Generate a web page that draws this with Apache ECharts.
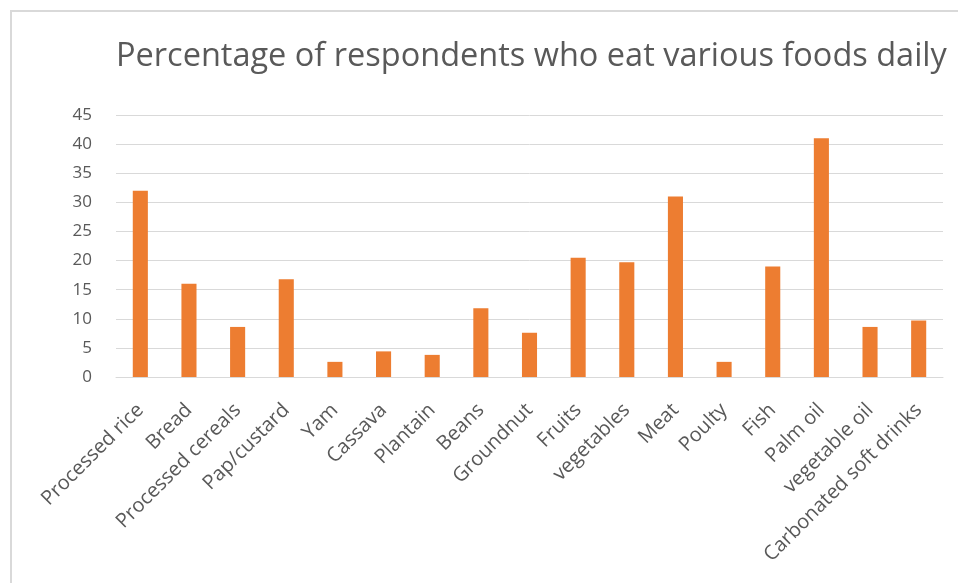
<!DOCTYPE html>
<html>
<head>
<meta charset="utf-8">
<script src="https://cdn.jsdelivr.net/npm/echarts@6/dist/echarts.min.js"></script>
<style>
html,body{margin:0;padding:0;background:#fff;}
#chart{width:958px;height:583px;}
</style>
</head>
<body>
<div id="chart"></div>
<script>
const titleText = 'Percentage of respondents who eat various foods daily';
const categories = ['Processed rice','Bread','Processed cereals','Pap/custard','Yam','Cassava','Plantain','Beans','Groundnut','Fruits','vegetables','Meat','Poulty','Fish','Palm oil','vegetable oil','Carbonated soft drinks'];
const values = [32, 16, 8.6, 16.8, 2.6, 4.4, 3.8, 11.8, 7.6, 20.5, 19.7, 31, 2.6, 19, 41, 8.6, 9.7];
const yTicks = {min: 0, max: 45, interval: 5};

const chart = echarts.init(document.getElementById('chart'));
chart.setOption({
  backgroundColor: '#ffffff',
  animation: false,
  graphic: [{
    type: 'rect',
    shape: {x: 11, y: 11, width: 1000, height: 700},
    style: {fill: 'none', stroke: '#d9d9d9', lineWidth: 2},
    silent: true, z: -1
  }],
  title: {
    text: titleText,
    left: 111,
    top: 35,
    textStyle: {fontFamily: 'Open Sans', fontSize: 32.5, fontWeight: 'normal', color: '#595959'}
  },
  grid: {left: 116, right: 15, top: 115, bottom: 206, containLabel: false},
  xAxis: {
    type: 'category',
    data: categories,
    axisLine: {show: true, lineStyle: {color: '#d9d9d9', width: 1}},
    axisTick: {show: false},
    axisLabel: {rotate: 45, interval: 0, margin: 30, color: '#595959', fontFamily: 'Open Sans', fontSize: 20}
  },
  yAxis: {
    type: 'value',
    min: yTicks.min, max: yTicks.max, interval: yTicks.interval,
    axisLine: {show: false},
    axisTick: {show: false},
    splitLine: {lineStyle: {color: '#d9d9d9', width: 1}},
    axisLabel: {margin: 24, color: '#595959', fontFamily: 'Open Sans', fontSize: 17}
  },
  series: [{
    type: 'bar',
    data: values,
    barWidth: '31%',
    itemStyle: {color: '#ED7D31'}
  }]
});
</script>
</body>
</html>
